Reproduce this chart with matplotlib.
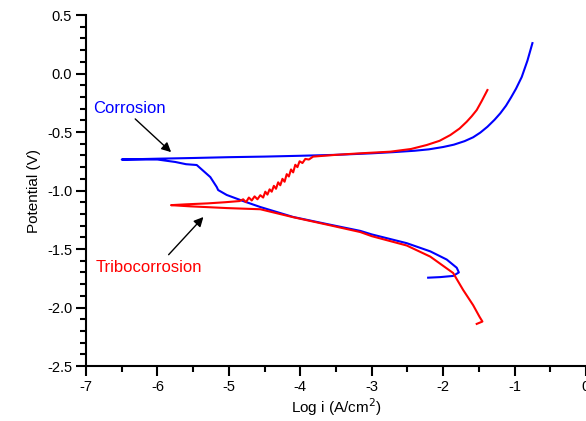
import matplotlib.pyplot as plt
from matplotlib.ticker import MultipleLocator

plt.rcParams['font.family'] = ['Liberation Sans', 'DejaVu Sans']

# Corrosion curve (blue) in scan order
corr_logi = [-2.21, -2.04, -1.86, -1.78, -1.81, -1.95, -2.18, -2.51, -3.0, -3.16,
             -3.6, -4.10, -4.56, -4.80, -5.03, -5.15, -5.17, -5.26, -5.45, -5.60,
             -5.75, -6.0, -6.5, -6.0, -5.5, -5.0, -4.5, -4.0, -3.5, -3.0, -2.7,
             -2.4, -2.2, -2.0, -1.85, -1.7, -1.58, -1.48, -1.38, -1.28, -1.2,
             -1.12, -1.05, -0.98, -0.9, -0.82, -0.75]
corr_pot = [-1.745, -1.74, -1.73, -1.70, -1.66, -1.59, -1.52, -1.45, -1.375, -1.345,
            -1.29, -1.226, -1.141, -1.09, -1.038, -0.996, -0.97, -0.885, -0.782, -0.775,
            -0.756, -0.735, -0.735, -0.728, -0.722, -0.715, -0.71, -0.703, -0.695, -0.682, -0.672,
            -0.66, -0.648, -0.628, -0.608, -0.578, -0.545, -0.505, -0.455, -0.395, -0.34,
            -0.275, -0.205, -0.13, -0.03, 0.11, 0.26]

# Tribocorrosion curve (red)
tribo_logi = [-1.53, -1.45, -1.49, -1.58, -1.72, -1.86, -2.18, -2.51, -3.0, -3.16,
              -3.6, -4.10, -4.56, -4.80, -5.03, -5.30, -5.55, -5.81,
              -5.60, -5.30, -5.05, -4.85, -4.80, -4.76, -4.72, -4.68, -4.64, -4.60,
              -4.56, -4.52, -4.49, -4.46, -4.43, -4.40, -4.37, -4.34, -4.31, -4.28,
              -4.25, -4.22, -4.19, -4.16, -4.13, -4.10, -4.07, -4.04, -4.01, -3.97,
              -3.93, -3.88, -3.82, -3.5, -3.16, -2.74, -2.45, -2.23, -2.05, -1.90,
              -1.77, -1.67, -1.6, -1.53, -1.46, -1.38]
tribo_pot = [-2.14, -2.12, -2.08, -1.98, -1.85, -1.705, -1.565, -1.47, -1.39, -1.355,
             -1.295, -1.228, -1.16, -1.155, -1.15, -1.142, -1.135, -1.125,
             -1.118, -1.11, -1.10, -1.09, -1.075, -1.10, -1.06, -1.085, -1.05, -1.075,
             -1.04, -1.06, -1.01, -1.035, -0.99, -1.01, -0.96, -0.985, -0.93, -0.955,
             -0.90, -0.925, -0.86, -0.88, -0.82, -0.845, -0.78, -0.80, -0.75, -0.765,
             -0.73, -0.735, -0.71, -0.695, -0.682, -0.668, -0.645, -0.611, -0.575, -0.526,
             -0.47, -0.412, -0.365, -0.312, -0.235, -0.141]

fig = plt.figure(figsize=(5.86, 4.21), dpi=100)
ax = fig.add_axes([0.1468, 0.1306, 0.8532, 0.8337])

ax.plot(corr_logi, corr_pot, color='#0000ff', lw=1.5)
ax.plot(tribo_logi, tribo_pot, color='#ff0000', lw=1.5)

ax.set_xlim(-7, 0)
ax.set_ylim(-2.5, 0.5)
ax.xaxis.set_minor_locator(MultipleLocator(0.5))
ax.yaxis.set_major_locator(MultipleLocator(0.5))
ax.yaxis.set_minor_locator(MultipleLocator(0.1))
ax.set_xticks(range(-7, 1))
ax.set_xticklabels([str(v) for v in range(-7, 1)])
ax.yaxis.set_major_formatter(plt.FuncFormatter(lambda v, p: f'{v:.1f}'))

for s in ['top', 'right']:
    ax.spines[s].set_visible(False)
for s in ['left', 'bottom']:
    ax.spines[s].set_linewidth(1.5)
ax.tick_params(which='major', direction='out', length=7, width=1.5, labelsize=10.5, pad=3)
ax.tick_params(which='minor', direction='out', length=4, width=1.5)

ax.set_xlabel('Log i (A/cm$^2$)', fontsize=11, labelpad=2)
ax.set_ylabel('Potential (V)', fontsize=11, labelpad=4)

ax.text(-6.90, -0.295, 'Corrosion', color='#0000ff', fontsize=12, va='center', ha='left')
ax.annotate('', xy=(-5.78, -0.688), xytext=(-6.34, -0.372),
            arrowprops=dict(arrowstyle='-|>', color='black', lw=1, mutation_scale=14))
ax.text(-6.86, -1.654, 'Tribocorrosion', color='#ff0000', fontsize=12, va='center', ha='left')
ax.annotate('', xy=(-5.33, -1.209), xytext=(-5.87, -1.566),
            arrowprops=dict(arrowstyle='-|>', color='black', lw=1, mutation_scale=14))

fig.savefig('out.png', dpi=100)
